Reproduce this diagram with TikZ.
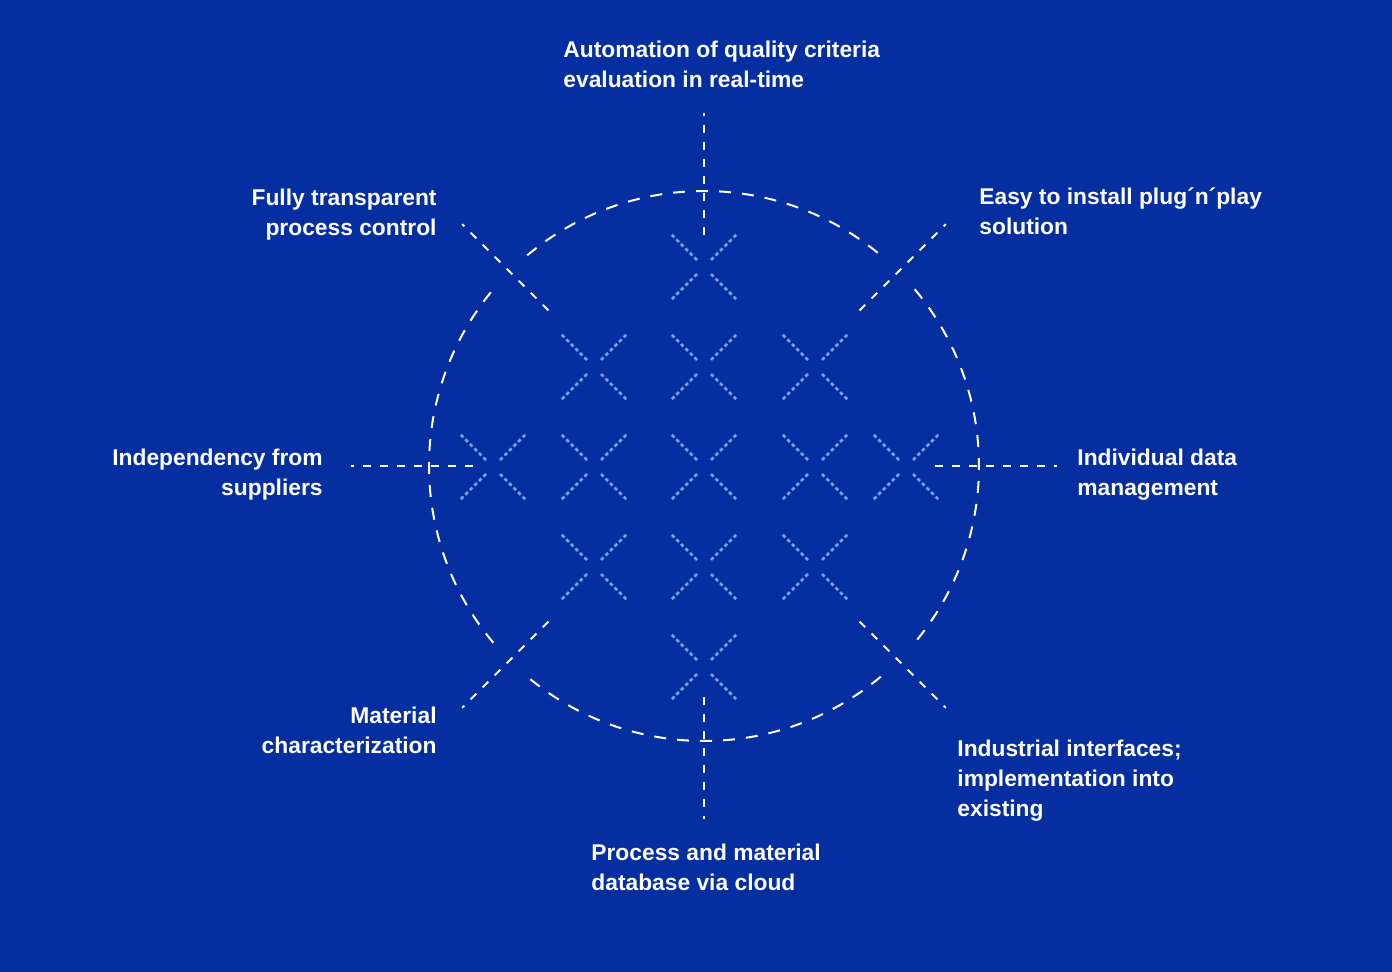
\documentclass[tikz,border=0pt]{standalone}
\usepackage{fontspec}
\setmainfont{Liberation Sans}
\usetikzlibrary{calc}

\definecolor{deepblue}{RGB}{5,46,160}
\definecolor{paleblue}{RGB}{128,158,226}

\begin{document}
\begin{tikzpicture}[x=0.5pt, y=-0.5pt,
    ring/.style={white, line width=1pt, dash pattern=on 6pt off 5.5pt},
    spoke/.style={white, line width=1pt, dash pattern=on 4pt off 4.5pt},
    cross/.style={paleblue, line width=1.3pt, dash pattern=on 1.8pt off 1.4pt},
    label/.style={white, font=\bfseries\fontsize{11.4}{15}\selectfont, inner sep=0pt}]

    \fill[deepblue] (0,0) rectangle (1392,972);
    \coordinate (hub) at (704,466);

    % ring, open where the diagonals pass
    \foreach \a in {0,90,180,270}
        \draw[ring] (hub) ++(\a+50:275) arc[start angle=\a+50, end angle=\a+130, radius=275];

    % spokes
    \foreach \a in {0,90,180,270}
        \draw[spoke] (hub) ++(\a:231) -- ++(\a:122);
    \foreach \a in {45,135,225,315}
        \draw[spoke] (hub) ++(\a:220) -- ++(\a:122);

    % dotted crosses
    \foreach \cx/\cy in {704/267, 594/367, 704/367, 815/367,
                         493/467, 594/467, 704/467, 815/467, 906/467,
                         594/567, 704/567, 815/567, 704/667}
        \foreach \sx/\sy in {1/1, 1/-1, -1/1, -1/-1}
            \draw[cross] (\cx+7*\sx, \cy+7*\sy) -- (\cx+33*\sx, \cy+33*\sy);

    % labels (base = last line)
    \node[label, anchor=base west, align=left] (quality) at (563,88) {Automation of quality criteria\\evaluation in real-time};
    \node[label, anchor=base west, align=left] (plugplay) at (979,235) {Easy to install plug´n´play\\solution};
    \node[label, anchor=base west, align=left] (datamgmt) at (1077,496) {Individual data\\management};
    \node[label, anchor=base west, align=left] (interfaces) at (957,816) {Industrial interfaces;\\implementation into\\existing};
    \node[label, anchor=base west, align=left] (cloud) at (591,890) {Process and material\\database via cloud};
    \node[label, anchor=base east, align=right] (material) at (437,753) {Material\\characterization};
    \node[label, anchor=base east, align=right] (suppliers) at (323,496) {Independency from\\suppliers};
    \node[label, anchor=base east, align=right] (transparent) at (437,236) {Fully transparent\\process control};
\end{tikzpicture}
\end{document}
